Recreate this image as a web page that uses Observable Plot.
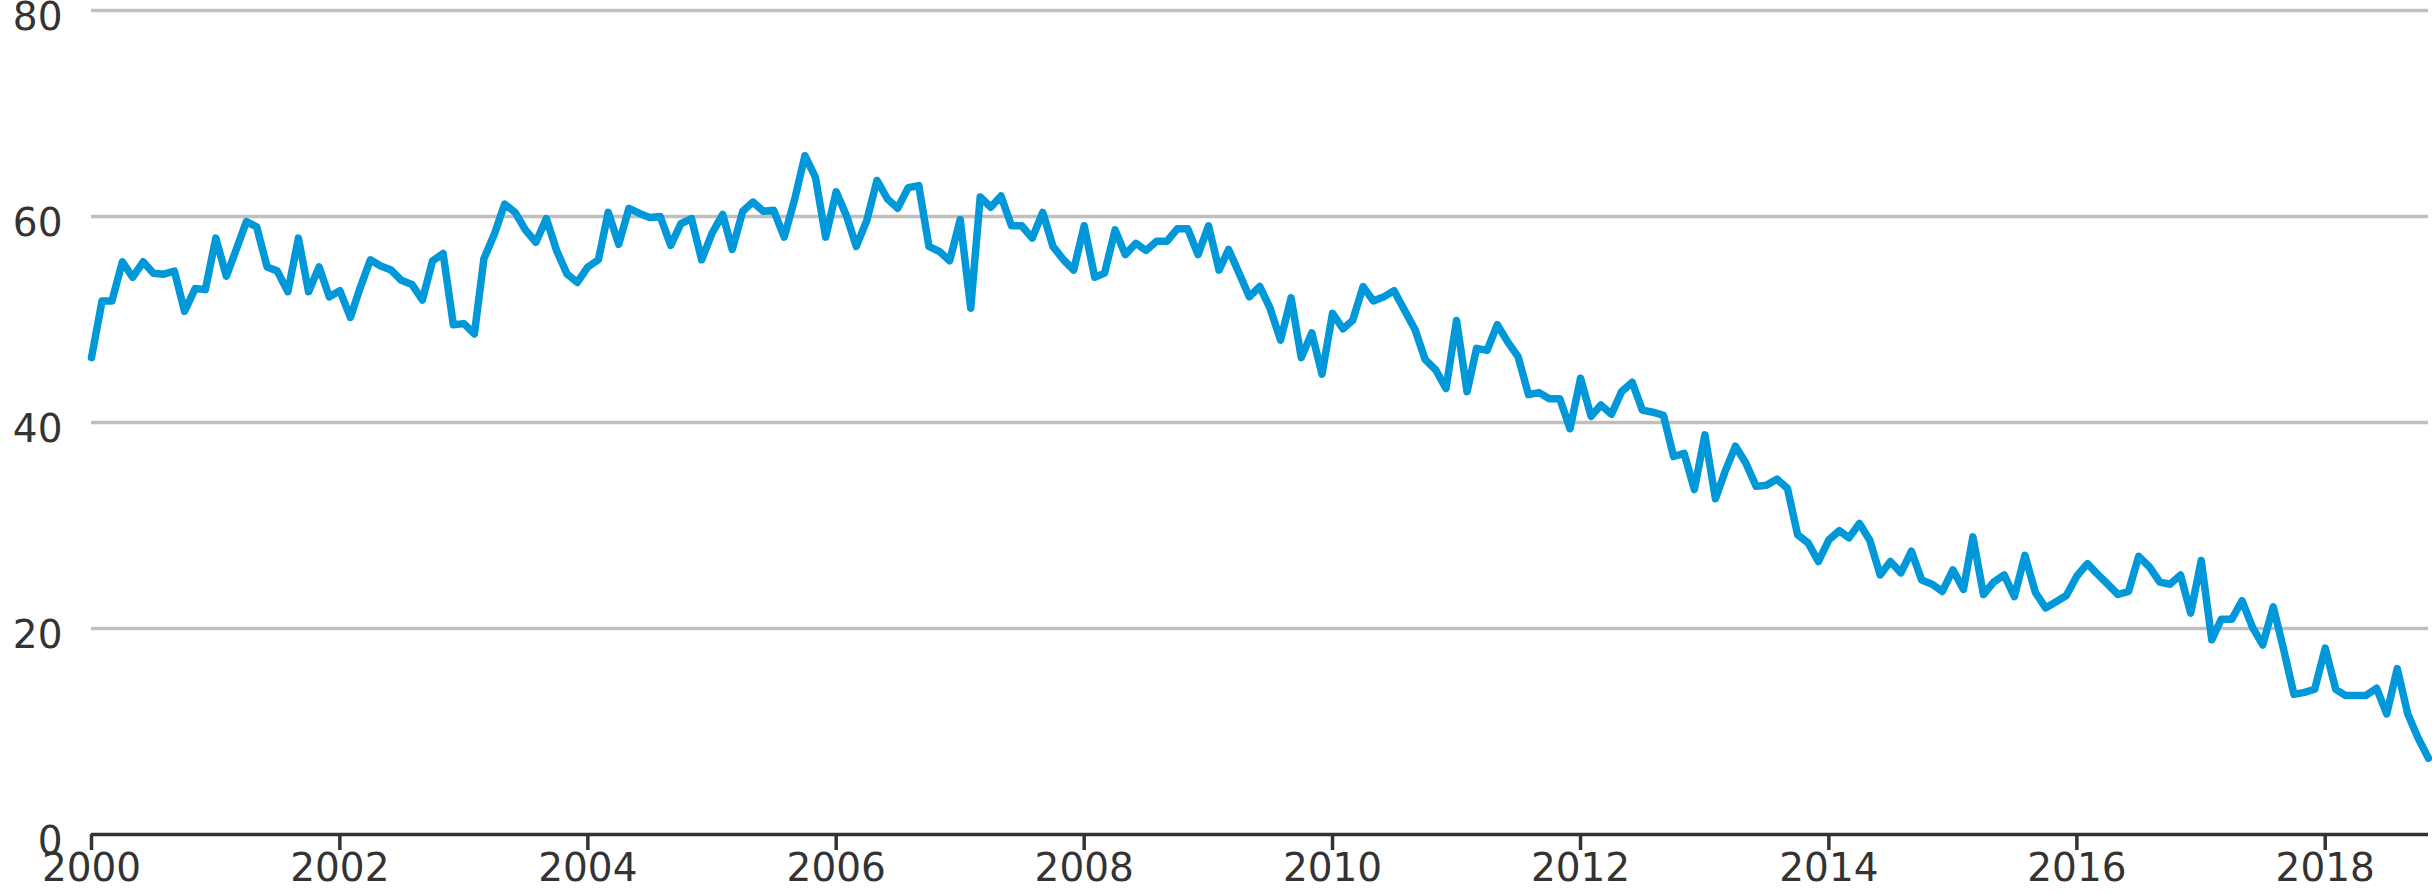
<!DOCTYPE html>
<html>
<head>
<meta charset="utf-8">
<script src="https://cdn.jsdelivr.net/npm/d3@7"></script>
<script src="https://cdn.jsdelivr.net/npm/@observablehq/plot@0.6"></script>
<style>
  html, body { margin: 0; padding: 0; background: #fff; }
  #chart svg { display: block; }
</style>
</head>
<body>
<div id="chart"></div>
<script>
// Monthly values, January to December of each year (2018 ends in November)
const y2000 = [46.3, 51.8, 51.8, 55.6, 54.1, 55.6, 54.5, 54.4, 54.7, 50.8, 53.0, 52.9];
const y2001 = [57.9, 54.2, 56.7, 59.5, 59.0, 55.1, 54.7, 52.7, 57.9, 52.7, 55.1, 52.2];
const y2002 = [52.8, 50.2, 53.0, 55.8, 55.2, 54.8, 53.8, 53.4, 51.9, 55.7, 56.4, 49.5];
const y2003 = [49.6, 48.6, 55.9, 58.3, 61.2, 60.4, 58.7, 57.5, 59.8, 56.7, 54.4, 53.6];
const y2004 = [55.1, 55.8, 60.4, 57.3, 60.8, 60.3, 59.9, 60.0, 57.2, 59.3, 59.8, 55.8];
const y2005 = [58.4, 60.2, 56.8, 60.5, 61.4, 60.5, 60.6, 58.0, 61.7, 65.9, 63.8, 58.0];
const y2006 = [62.4, 60.0, 57.1, 59.6, 63.5, 61.7, 60.8, 62.8, 63.0, 57.1, 56.6, 55.7];
const y2007 = [59.7, 51.1, 61.9, 60.9, 62.0, 59.1, 59.1, 57.9, 60.4, 57.1, 55.8, 54.8];
const y2008 = [59.1, 54.1, 54.5, 58.7, 56.3, 57.4, 56.7, 57.6, 57.6, 58.8, 58.8, 56.3];
const y2009 = [59.1, 54.8, 56.8, 54.5, 52.2, 53.2, 51.1, 48.0, 52.1, 46.3, 48.7, 44.7];
const y2010 = [50.6, 49.1, 49.9, 53.2, 51.8, 52.2, 52.8, 50.9, 49.0, 46.1, 45.1, 43.3];
const y2011 = [49.9, 43.0, 47.2, 47.0, 49.5, 47.8, 46.4, 42.7, 42.9, 42.3, 42.3, 39.4];
const y2012 = [44.3, 40.6, 41.7, 40.8, 43.0, 43.9, 41.2, 41.0, 40.7, 36.7, 37.0, 33.5];
const y2013 = [38.8, 32.6, 35.2, 37.7, 36.1, 33.8, 33.9, 34.5, 33.6, 29.1, 28.3, 26.5];
const y2014 = [28.6, 29.5, 28.8, 30.2, 28.6, 25.2, 26.5, 25.4, 27.5, 24.7, 24.3, 23.6];
const y2015 = [25.7, 23.8, 28.9, 23.3, 24.5, 25.2, 23.1, 27.1, 23.5, 22.0, 22.6, 23.2];
const y2016 = [25.1, 26.3, 25.3, 24.3, 23.3, 23.6, 27.0, 26.0, 24.5, 24.3, 25.2, 21.5];
const y2017 = [26.6, 18.9, 20.9, 20.9, 22.7, 20.1, 18.4, 22.1, 17.9, 13.6, 13.8, 14.1];
const y2018 = [18.1, 14.1, 13.5, 13.5, 13.5, 14.2, 11.7, 16.1, 11.7, 9.4, 7.4];

const years = [2000, 2001, 2002, 2003, 2004, 2005, 2006, 2007, 2008, 2009,
               2010, 2011, 2012, 2013, 2014, 2015, 2016, 2017, 2018];
const yearValues = [y2000, y2001, y2002, y2003, y2004, y2005, y2006, y2007, y2008, y2009,
                    y2010, y2011, y2012, y2013, y2014, y2015, y2016, y2017, y2018];

const yTicks = [0, 20, 40, 60, 80];
const xTickYears = [2000, 2002, 2004, 2006, 2008, 2010, 2012, 2014, 2016, 2018];

const data = [];
years.forEach((yr, i) => {
  yearValues[i].forEach((v, m) => {
    data.push({date: new Date(Date.UTC(yr, m, 1)), value: v});
  });
});
const xTicks = xTickYears.map(y => new Date(Date.UTC(y, 0, 1)));

const chart = Plot.plot({
  width: 2432,
  height: 893,
  marginLeft: 91,
  marginRight: 4,
  marginTop: 10,
  marginBottom: 59,
  style: {
    fontFamily: "'DejaVu Sans', sans-serif",
    fontSize: "39px",
    color: "#333333",
    background: "#ffffff",
    overflow: "visible"
  },
  x: {type: "utc", domain: [data[0].date, data[data.length - 1].date]},
  y: {domain: [0, 80]},
  marks: [
    Plot.ruleY(yTicks.filter(d => d > 0), {stroke: "#bfbfbf", strokeWidth: 3.5}),
    Plot.axisY(yTicks, {
      tickSize: 0, tickPadding: 29, label: null, fontSize: 39,
      fill: "#333333", dy: 7
    }),
    Plot.axisX(xTicks, {
      tickSize: 16, tickPadding: 3, label: null, fontSize: 39,
      stroke: "#333333", strokeWidth: 3.5, fill: "#333333",
      tickFormat: d3.utcFormat("%Y")
    }),
    Plot.ruleY([0], {stroke: "#333333", strokeWidth: 3.5}),
    Plot.lineY(data, {
      x: "date", y: "value", stroke: "#0098d8", strokeWidth: 7.5,
      strokeLinejoin: "round", strokeLinecap: "round"
    })
  ]
});
document.getElementById("chart").appendChild(chart);
</script>
</body>
</html>
